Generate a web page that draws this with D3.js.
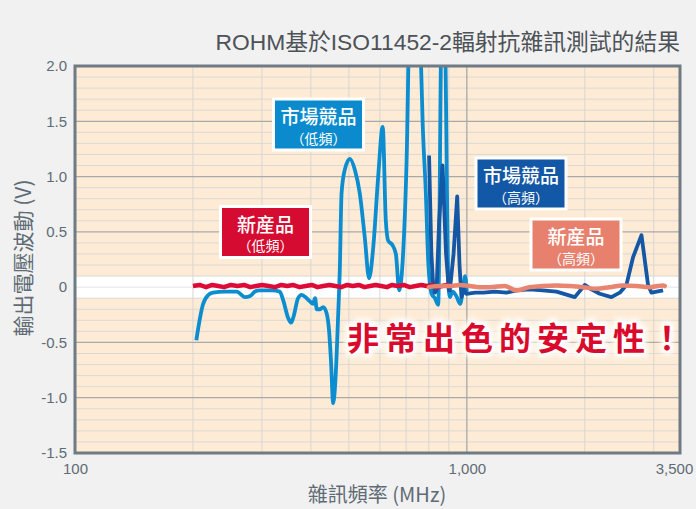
<!DOCTYPE html>
<html><head><meta charset="utf-8">
<script src="https://cdn.jsdelivr.net/npm/d3@7/dist/d3.min.js"></script>
<style>
html,body{margin:0;padding:0;background:#f1f1f1;}
svg{display:block;}
</style></head>
<body>
<svg id="chart" width="696" height="509"></svg>
<script>
// ---- data ----
const yTicks = [2.0, 1.5, 1.0, 0.5, 0, -0.5, -1.0, -1.5];
const yTickLabels = ["2.0", "1.5", "1.0", "0.5", "0", "-0.5", "-1.0", "-1.5"];
const xTicks = [100, 1000, 3500];
const xTickLabels = ["100", "1,000", "3,500"];
const xGridMinor = [200, 300, 400, 500, 600, 700, 800, 900, 2000, 3000];
const xGridMajor = [1000];

const seriesNames = ["市場競品（低頻）", "新産品（低頻）", "市場競品（高頻）", "新産品（高頻）"];

// 市場競品（低頻）
const compLowFreq = [204,212,219,225,241,259,264,271,280,288,296,318,333,340,350,356,361,371,379,390,398,405,410,414,422,430,439,445,450,456,462,470,474,479,488,503,518,533,549,563,577,594,610,621,630,646,659,672,686,702,716,740,760,772,786,797,813,829,845,862,870,879,890,896,905,920,940,962,979,990,1000];
const compLowV    = [-0.48,-0.16,-0.07,-0.05,-0.04,-0.04,-0.06,-0.09,-0.08,-0.04,-0.03,-0.03,-0.04,-0.12,-0.28,-0.32,-0.27,-0.10,-0.07,-0.10,-0.13,-0.15,-0.10,-0.20,-0.20,-0.18,-0.24,-0.39,-0.66,-1.05,-0.84,-0.21,0.15,0.85,1.06,1.16,1.06,0.85,0.45,0.08,0.36,1.00,1.45,0.61,0.42,0.38,0.30,-0.03,0.24,1.15,2.6,2.9,2.3,1.45,0.85,0.24,-0.06,-0.10,-0.16,2.5,2.8,2.5,0.85,0.09,-0.09,-0.04,-0.08,-0.15,0.0,0.10,-0.04];

// 新産品（低頻）
const newLowFreq = [200,208,216,224,232,240,250,260,270,280,290,300,312,324,336,348,360,374,388,402,416,430,446,462,478,495,512,530,548,566,585,605,625,645,665,690,715,740,765,790,815,840,865,890,905];
const newLowV    = [0.01,0.02,0.00,0.02,0.01,0.00,0.02,0.01,0.02,0.00,0.01,0.02,0.01,0.00,0.02,0.01,0.02,0.00,0.01,0.02,0.00,0.01,0.02,0.01,0.00,0.02,0.01,0.02,0.00,0.01,0.02,0.01,0.00,0.02,0.01,0.02,0.00,0.01,0.02,0.01,0.02,0.00,0.01,0.02,0.01];

// 市場競品（高頻）
const compHighFreq = [801,812,820,828,837,850,867,885,900,905,925,945,958,969,985,998,1050,1101,1180,1263,1340,1448,1560,1694,1886,2000,2080,2184,2339,2457,2555,2656,2791,2901,2960,3169];
const compHighV    = [1.19,0.30,0.04,-0.05,-0.03,0.60,1.10,0.30,-0.03,-0.03,0.30,0.82,0.20,-0.09,-0.02,-0.06,-0.05,-0.05,-0.04,-0.05,-0.03,-0.02,-0.03,-0.04,-0.09,0.02,-0.02,-0.06,-0.09,-0.05,0.02,0.27,0.47,0.02,-0.05,-0.03];

// 新産品（高頻）
const newHighFreq = [800,850,905,960,1018,1080,1145,1250,1339,1448,1560,1694,1831,1981,2142,2316,2505,2710,2930,3169,3200];
const newHighV    = [0.00,0.01,0.01,0.02,0.01,0.00,0.00,0.01,-0.03,0.00,0.01,0.015,0.01,0.00,-0.015,0.00,0.015,0.01,0.00,0.015,0.01];

const colors = ["#0b8dd0", "#dd0c36", "#1457a5", "#e8846f"];
const boxColors = ["#0b8bcd", "#d60b31", "#1358a6", "#e7806d"];

// ---- layout ----
const svg = d3.select("#chart");
const L = 75, R = 680, T = 66, B = 453;
const x = d3.scaleLog().domain([100, 3500]).range([L, R]);
const y = d3.scaleLinear().domain([-1.5, 2]).range([B, T]);
const fontLatin = "'Liberation Sans', Arial, 'Noto Sans CJK TC', sans-serif";
const fontCJK = "'Noto Sans CJK TC', 'Noto Sans CJK JP', sans-serif";
const axisColor = "#5f6b75";

svg.append("rect").attr("width", 696).attr("height", 509).attr("fill", "#f1f1f1");

// plot background
svg.append("rect").attr("x", L).attr("y", T).attr("width", R - L).attr("height", B - T).attr("fill", "#fdebd6");
// white band around 0
svg.append("rect").attr("x", L).attr("y", y(0.1)).attr("width", R - L).attr("height", y(-0.1) - y(0.1)).attr("fill", "#ffffff");

// horizontal grid
const hMinor = d3.range(-14, 20).map(i => i / 10).filter(v => Math.abs(Math.round(v * 10) % 5) !== 0);
svg.append("g").selectAll("line").data(hMinor).join("line")
  .attr("x1", L).attr("x2", R).attr("y1", d => y(d)).attr("y2", d => y(d))
  .attr("stroke", "#dcd9d4").attr("stroke-width", 1);
svg.append("line").attr("x1", L).attr("x2", R).attr("y1", y(0)).attr("y2", y(0))
  .attr("stroke", "#e4e4e4").attr("stroke-width", 1);
// vertical grid
svg.append("g").selectAll("line").data(xGridMinor).join("line")
  .attr("x1", d => x(d)).attr("x2", d => x(d)).attr("y1", T).attr("y2", B)
  .attr("stroke", "#d8d6d2").attr("stroke-width", 1);
const hMajor = [-1.0, -0.5, 0.5, 1.0, 1.5];
svg.append("g").selectAll("line").data(hMajor).join("line")
  .attr("x1", L).attr("x2", R).attr("y1", d => y(d)).attr("y2", d => y(d))
  .attr("stroke", "#a7a9ab").attr("stroke-width", 1.3);
svg.append("g").selectAll("line").data(xGridMajor).join("line")
  .attr("x1", d => x(d)).attr("x2", d => x(d)).attr("y1", T).attr("y2", B)
  .attr("stroke", "#a7a9ab").attr("stroke-width", 1.3);

// clip
svg.append("clipPath").attr("id", "plotclip").append("rect")
  .attr("x", L).attr("y", T).attr("width", R - L).attr("height", B - T);

const line = d3.line().x(d => x(d[0])).y(d => y(d[1]));
const lineSmooth = d3.line().x(d => x(d[0])).y(d => y(d[1])).curve(d3.curveMonotoneX);
const zipData = (f, v) => f.map((d, i) => [d, v[i]]);

const lines = svg.append("g").attr("clip-path", "url(#plotclip)");
lines.append("path").datum(zipData(compLowFreq, compLowV)).attr("d", lineSmooth)
  .attr("fill", "none").attr("stroke", colors[0]).attr("stroke-width", 3.8).attr("stroke-linejoin", "round");
lines.append("path").datum(zipData(compHighFreq, compHighV)).attr("d", line)
  .attr("fill", "none").attr("stroke", colors[2]).attr("stroke-width", 3.8).attr("stroke-linejoin", "round");
lines.append("path").datum(zipData(newLowFreq, newLowV)).attr("d", line)
  .attr("fill", "none").attr("stroke", colors[1]).attr("stroke-width", 4.5).attr("stroke-linejoin", "round");
lines.append("path").datum(zipData(newHighFreq, newHighV)).attr("d", lineSmooth)
  .attr("fill", "none").attr("stroke", colors[3]).attr("stroke-width", 4.5).attr("stroke-linecap", "round");

// border
svg.append("rect").attr("x", L).attr("y", T).attr("width", R - L).attr("height", B - T)
  .attr("fill", "none").attr("stroke", "#6e7b85").attr("stroke-width", 3);

// y axis labels
const yAxis = d3.axisLeft(y).tickValues(yTicks).tickFormat((d, i) => yTickLabels[i]).tickSize(0).tickPadding(8);
const gy = svg.append("g").attr("transform", `translate(${L},0)`).call(yAxis);
gy.select(".domain").remove();
gy.selectAll("text").attr("font-family", fontLatin).attr("font-size", 15).attr("fill", axisColor);

// x axis labels
const xAxis = d3.axisBottom(x).tickValues(xTicks).tickFormat((d, i) => xTickLabels[i]).tickSize(0).tickPadding(10);
const gx = svg.append("g").attr("transform", `translate(0,${B})`).call(xAxis);
gx.select(".domain").remove();
gx.selectAll("text").attr("font-family", fontLatin).attr("font-size", 15).attr("fill", axisColor);
gx.selectAll(".tick").filter(d => d === 3500).select("text").attr("dx", -6);

// axis titles
svg.append("text").attr("x", 377).attr("y", 493).attr("text-anchor", "middle").attr("dominant-baseline", "central")
  .attr("font-family", fontCJK).attr("font-size", 20).attr("fill", axisColor).text("雜訊頻率 (MHz)");
svg.append("text").attr("transform", "translate(22,258) rotate(-90)").attr("text-anchor", "middle").attr("dominant-baseline", "central")
  .attr("font-family", fontCJK).attr("font-size", 21).attr("fill", axisColor).text("輸出電壓波動 (V)");

// chart title
svg.append("text").attr("x", 680).attr("y", 50).attr("text-anchor", "end")
  .attr("font-family", fontLatin).attr("font-size", 22.8).attr("fill", "#4d5257")
  .text("ROHM基於ISO11452-2輻射抗雜訊測試的結果");

// annotation boxes
const boxes = [
  {cx: 318.5, cy: 124.5, t1: "市場競品", t2: "（低頻）", c: boxColors[0]},
  {cx: 265.5, cy: 232, t1: "新産品", t2: "（低頻）", c: boxColors[1]},
  {cx: 521, cy: 183.5, t1: "市場競品", t2: "（高頻）", c: boxColors[2]},
  {cx: 576, cy: 244.5, t1: "新産品", t2: "（高頻）", c: boxColors[3]}
];
const bw = 90, bh = 51;
const bg = svg.append("g").selectAll("g").data(boxes).join("g")
  .attr("transform", d => `translate(${d.cx},${d.cy})`);
bg.append("rect").attr("x", -bw / 2).attr("y", -bh / 2).attr("width", bw).attr("height", bh)
  .attr("fill", d => d.c).attr("stroke", "#ffffff").attr("stroke-width", 3);
bg.append("text").attr("y", -9).attr("text-anchor", "middle").attr("dominant-baseline", "central")
  .attr("font-family", fontCJK).attr("font-size", 19).attr("font-weight", 500).attr("fill", "#fff")
  .text(d => d.t1);
bg.append("text").attr("y", 13).attr("text-anchor", "middle").attr("dominant-baseline", "central")
  .attr("font-family", fontCJK).attr("font-size", 14).attr("fill", "#fff")
  .text(d => d.t2);

// big slogan with white glow
const defs = svg.append("defs");
const f = defs.append("filter").attr("id", "glow").attr("x", "-20%").attr("y", "-50%").attr("width", "140%").attr("height", "200%");
f.append("feGaussianBlur").attr("stdDeviation", 2.5);
const slogan = "非常出色的安定性！";
svg.append("text").attr("x", 347).attr("y", 336).attr("dominant-baseline", "central")
  .attr("font-family", fontCJK).attr("font-size", 32).attr("font-weight", 700).attr("letter-spacing", 6)
  .attr("fill", "#fff").attr("stroke", "#fff").attr("stroke-width", 8).attr("stroke-linejoin", "round")
  .attr("filter", "url(#glow)").text(slogan);
svg.append("text").attr("x", 347).attr("y", 336).attr("dominant-baseline", "central")
  .attr("font-family", fontCJK).attr("font-size", 32).attr("font-weight", 700).attr("letter-spacing", 6)
  .attr("fill", "#da0a2c").text(slogan);
</script>
</body></html>
